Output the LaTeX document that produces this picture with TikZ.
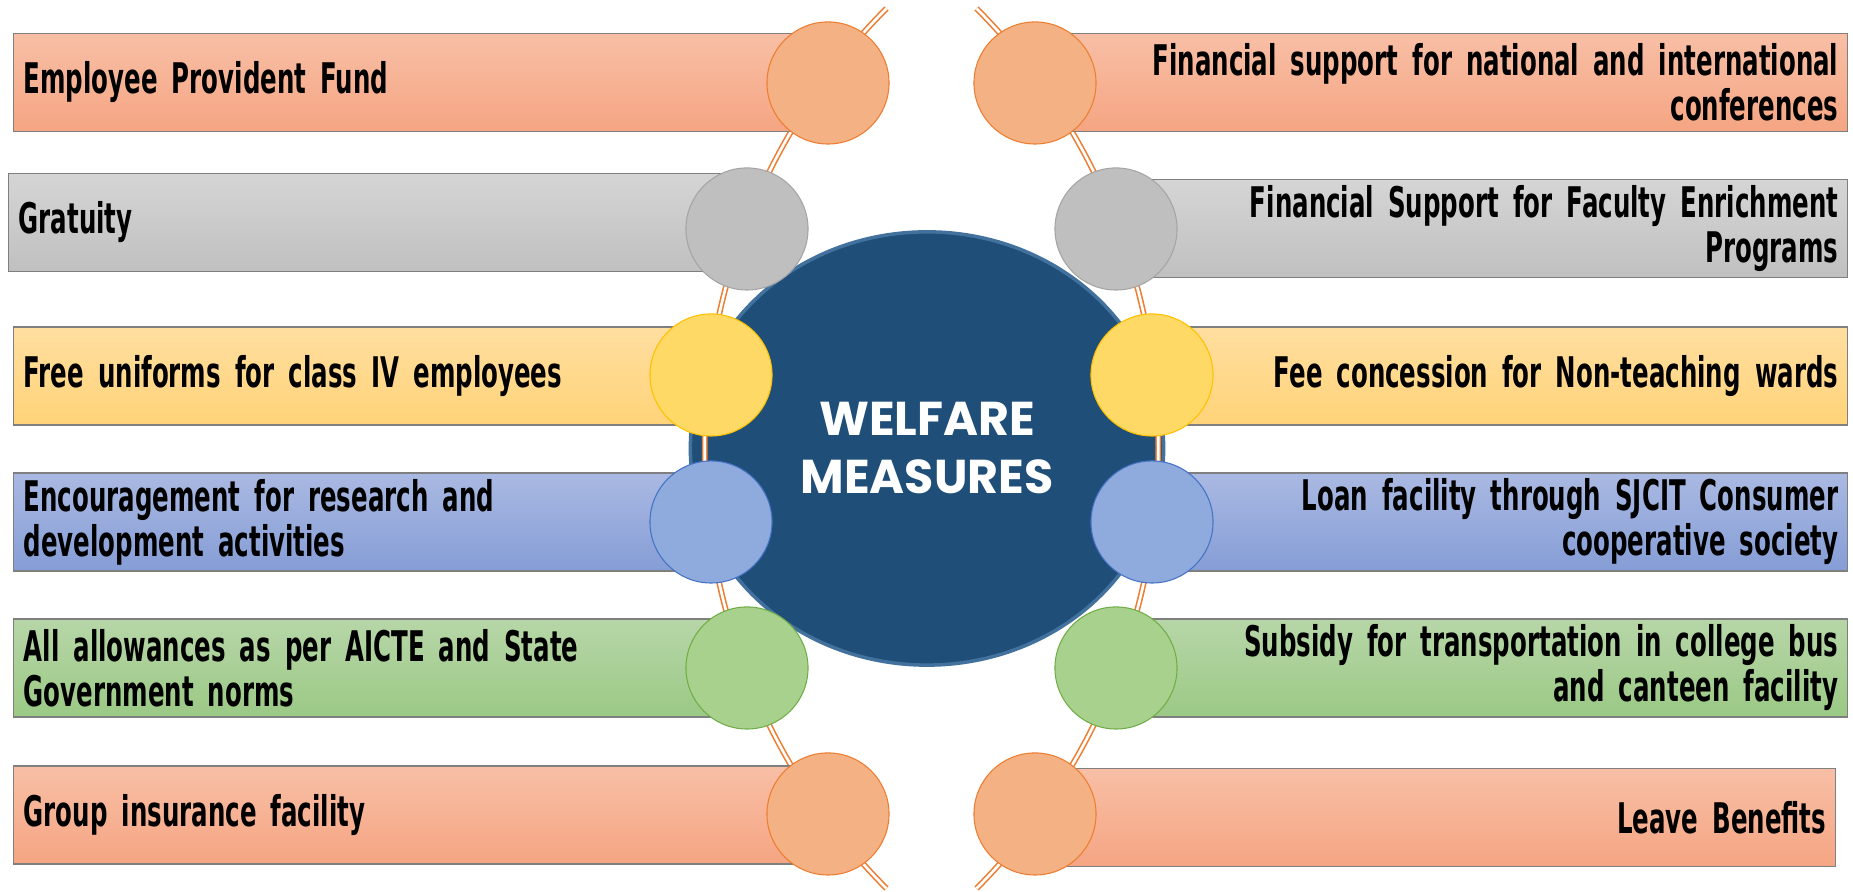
\documentclass[tikz,border=0pt]{standalone}
\usepackage{fontspec}
\usetikzlibrary{shapes.geometric}
\newfontfamily\barfont{DejaVu Sans}[FakeStretch=0.58, WordSpace=0.6]
\newfontfamily\hubfont{Poppins}

\definecolor{peachTop}{RGB}{248,191,166}
\definecolor{peachBot}{RGB}{245,165,130}
\definecolor{peachFill}{RGB}{244,177,131}
\definecolor{peachEdge}{RGB}{237,125,49}
\definecolor{greyTop}{RGB}{213,213,213}
\definecolor{greyBot}{RGB}{192,192,192}
\definecolor{greyFill}{RGB}{191,191,191}
\definecolor{greyEdge}{RGB}{165,165,165}
\definecolor{sunTop}{RGB}{255,222,160}
\definecolor{sunBot}{RGB}{255,211,120}
\definecolor{sunFill}{RGB}{255,217,102}
\definecolor{sunEdge}{RGB}{255,192,0}
\definecolor{skyTop}{RGB}{170,185,226}
\definecolor{skyBot}{RGB}{133,157,214}
\definecolor{skyFill}{RGB}{143,170,220}
\definecolor{skyEdge}{RGB}{68,114,196}
\definecolor{leafTop}{RGB}{183,214,168}
\definecolor{leafBot}{RGB}{155,201,133}
\definecolor{leafFill}{RGB}{169,209,142}
\definecolor{leafEdge}{RGB}{112,173,71}
\definecolor{barEdge}{RGB}{127,127,127}
\definecolor{hubFill}{RGB}{31,78,121}
\definecolor{hubEdge}{RGB}{65,113,156}

\tikzset{
  bar/.style={draw=barEdge, line width=0.4pt, top color=#1Top, bottom color=#1Bot,
    minimum height=0.98cm, inner ysep=0pt,
    font=\barfont\bfseries\fontsize{12}{12.8}\selectfont},
  leftbar/.style={bar=#1, anchor=west, align=left, inner xsep=0.1cm},
  rightbar/.style={bar=#1, anchor=east, align=right, inner xsep=0.09cm},
  knob/.style={circle, fill=#1Fill, draw=#1Edge, line width=0.3pt,
    minimum size=1.22cm, inner sep=0pt},
  ring/.style={draw=peachEdge, double=white, line width=0.45pt, double distance=0.75pt},
  hub/.style={ellipse, fill=hubFill, draw=hubEdge, line width=1pt,
    minimum width=4.73cm, minimum height=4.33cm, inner sep=0pt,
    text=white, align=center, font=\hubfont\bfseries\fontsize{13.5}{16.5}\selectfont}
}

\begin{document}
\begin{tikzpicture}[x=0.01cm, y=0.01cm]
\fill[white] (0,0) rectangle (1853,892);
\useasboundingbox (0,0) rectangle (1853,892);
% Centre
\node[hub] (hub) at (927,443.5) {WELFARE\\MEASURES};
% Rings behind the knobs
\coordinate (lc) at (1328,443.5);
\coordinate (rc) at (535,443.5);
\draw[ring] (lc) ++(135.1:6.23cm) arc[start angle=135.1, end angle=224.9, radius=6.23cm];
\draw[ring] (rc) ++(-44.9:6.23cm) arc[start angle=-44.9, end angle=44.9, radius=6.23cm];
% Left bars
\node[leftbar=peach, text width=7.95cm] (l1) at (13,809.5) {Employee Provident Fund};
\node[leftbar=grey, text width=7.19cm] (l2) at (8,669.5) {Gratuity};
\node[leftbar=sun, text width=6.78cm] (l3) at (13,516) {Free uniforms for class IV employees};
\node[leftbar=sky, text width=6.78cm] (l4) at (13,370) {Encouragement for research and\\development activities};
\node[leftbar=leaf, text width=7.14cm] (l5) at (13,224) {All allowances as per AICTE and State\\Government norms};
\node[leftbar=peach, text width=7.95cm] (l6) at (13,77) {Group insurance facility};
% Right bars
\node[rightbar=peach, text width=7.95cm] (r1) at (1848,809.5) {Financial support for national and international\\conferences};
\node[rightbar=grey, text width=7.15cm] (r2) at (1848,663.5) {Financial Support for Faculty Enrichment\\Programs};
\node[rightbar=sun, text width=6.78cm] (r3) at (1848,516) {Fee concession for Non-teaching wards};
\node[rightbar=sky, text width=6.78cm] (r4) at (1848,370) {Loan facility through SJCIT Consumer\\cooperative society};
\node[rightbar=leaf, text width=7.15cm] (r5) at (1848,224) {Subsidy for transportation in college bus\\and canteen facility};
\node[rightbar=peach, text width=7.83cm] (r6) at (1836,74.5) {Leave Benefits};
% Knobs
\node[knob=peach] (kl1) at (828,809) {};
\node[knob=grey] (kl2) at (747,663) {};
\node[knob=sun] (kl3) at (711,517) {};
\node[knob=sky] (kl4) at (711,370) {};
\node[knob=leaf] (kl5) at (747,224) {};
\node[knob=peach] (kl6) at (828,78) {};
\node[knob=peach] (kr1) at (1035,809) {};
\node[knob=grey] (kr2) at (1116,663) {};
\node[knob=sun] (kr3) at (1152,517) {};
\node[knob=sky] (kr4) at (1152,370) {};
\node[knob=leaf] (kr5) at (1116,224) {};
\node[knob=peach] (kr6) at (1035,78) {};
\end{tikzpicture}
\end{document}
